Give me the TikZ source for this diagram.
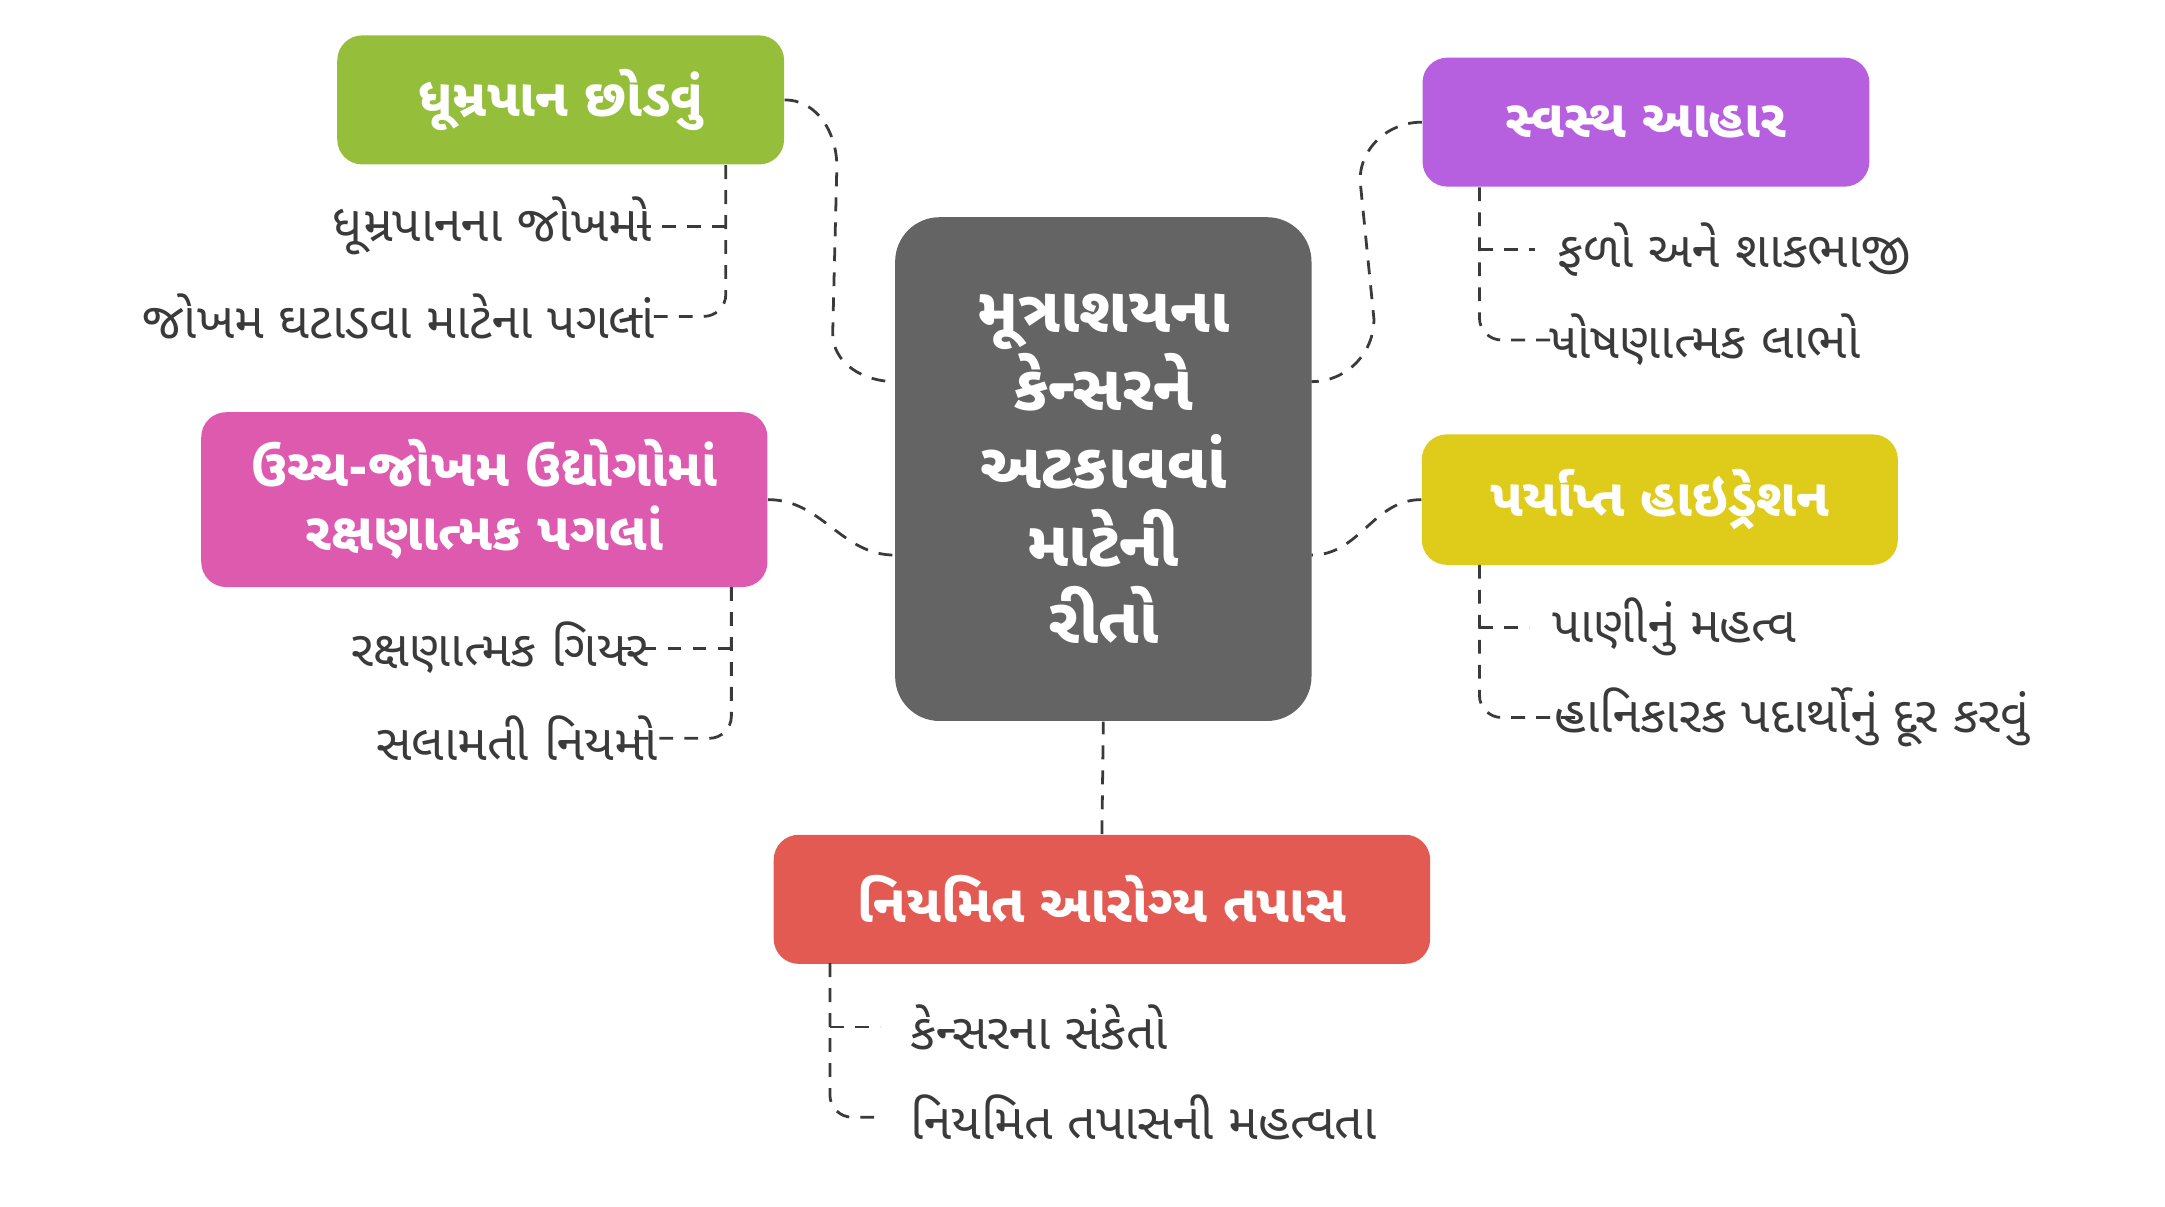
\documentclass[tikz,border=0pt]{standalone}
\usepackage{fontspec}
\newfontfamily\guj[Script=Gujarati]{Noto Sans Gujarati UI}
\definecolor{cgray}{HTML}{646464}
\definecolor{cgreen}{HTML}{95BE3B}
\definecolor{cpurple}{HTML}{B660E0}
\definecolor{cpink}{HTML}{DD5AAE}
\definecolor{cyellow}{HTML}{DECB1A}
\definecolor{cred}{HTML}{E35A52}
\definecolor{ctext}{HTML}{3A3A3A}
\tikzset{
  topic/.style = {shape=rectangle, rounded corners=9pt, align=center,
                  text=white, font=\guj\bfseries\fontsize{19}{23}\selectfont},
  hub/.style   = {topic, rounded corners=16pt, fill=cgray,
                  font=\guj\bfseries\fontsize{23}{28}\selectfont},
  leaf/.style  = {text=ctext, font=\guj\fontsize{18}{22}\selectfont, inner sep=0pt},
  link/.style  = {draw=ctext, dashed, dash pattern=on 5pt off 4pt, line width=1pt}
}
\begin{document}
\begin{tikzpicture}[x=0.5pt, y=-0.5pt]
  \useasboundingbox (0,0) rectangle (1560,869);

  % center and topics
  \node[hub, minimum width=150pt, minimum height=181.5pt] (hub) at (795,338)
    {મૂત્રાશયના\\કેન્સરને\\અટકાવવાં\\માટેની\\રીતો};
  \node[topic, fill=cgreen, minimum width=161pt, minimum height=46.5pt] (smoke) at (404,72) {ધૂમ્રપાન છોડવું};
  \node[topic, fill=cpurple, minimum width=161pt, minimum height=46.5pt] (diet) at (1186,88) {સ્વસ્થ આહાર};
  \node[topic, fill=cpink, minimum width=204pt, minimum height=63pt] (work) at (349,360) {ઉચ્ચ-જોખમ ઉદ્યોગોમાં\\રક્ષણાત્મક પગલાં};
  \node[topic, fill=cyellow, minimum width=171.5pt, minimum height=47pt] (water) at (1196,360) {પર્યાપ્ત હાઇડ્રેશન};
  \node[topic, fill=cred, minimum width=236.5pt, minimum height=46.5pt] (check) at (794,648) {નિયમિત આરોગ્ય તપાસ};

  % leaves
  \node[leaf, anchor=east] (s1) at (470,163) {ધૂમ્રપાનના જોખમો};
  \node[leaf, anchor=east] (s2) at (472,228) {જોખમ ઘટાડવા માટેના પગલાં};
  \node[leaf, anchor=east] (w1) at (468,467) {રક્ષણાત્મક ગિયર};
  \node[leaf, anchor=east] (w2) at (474,532) {સલામતી નિયમો};
  \node[leaf, anchor=west] (d1) at (1122,180) {ફળો અને શાકભાજી};
  \node[leaf, anchor=west] (d2) at (1116,245) {પોષણાત્મક લાભો};
  \node[leaf, anchor=west] (h1) at (1118,452) {પાણીનું મહત્વ};
  \node[leaf, anchor=west] (h2) at (1120,517) {હાનિકારક પદાર્થોનું દૂર કરવું};
  \node[leaf, anchor=west] (c1) at (656,740) {કેન્સરના સંકેતો};
  \node[leaf, anchor=west] (c2) at (656,805) {નિયમિત તપાસની મહત્વતા};

  % hub links
  \coordinate (hubNW) at (645,275);
  \coordinate (hubNE) at (945,275);
  \coordinate (hubSW) at (645,400);
  \coordinate (hubSE) at (945,400);
  \draw[link] (smoke.east) to[out=0,in=90] (603,120) -- (600,240) to[out=-90,in=180] (hubNW);
  \draw[link] (diet.west) to[out=180,in=90] (980,130) -- (990,230) to[out=-90,in=0] (hubNE);
  \draw[link] (work.east) to[out=0,in=180] (hubSW);
  \draw[link] (water.west) to[out=180,in=0] (hubSE);
  \draw[link] (check.north) -- (hub.south);

  % leaf links
  \draw[link, rounded corners=8pt] (523,119) |- ([xshift=-12pt]s2.east);
  \draw[link] (523,163) -- ([xshift=-12pt]s1.east);
  \draw[link, rounded corners=8pt] (527,423) |- ([xshift=-12pt]w2.east);
  \draw[link] (527,467) -- ([xshift=-12pt]w1.east);
  \draw[link, rounded corners=8pt] (1066,135) |- ([xshift=8pt]d2.west);
  \draw[link] (1066,180) -- ([xshift=-8pt]d1.west);
  \draw[link, rounded corners=8pt] (1066,407) |- ([xshift=8pt]h2.west);
  \draw[link] (1066,452) -- ([xshift=-8pt]h1.west);
  \draw[link, rounded corners=8pt] (598,694) |- ([xshift=-11pt]c2.west);
  \draw[link] (598,740) -- ([xshift=-11pt]c1.west);
\end{tikzpicture}
\end{document}
